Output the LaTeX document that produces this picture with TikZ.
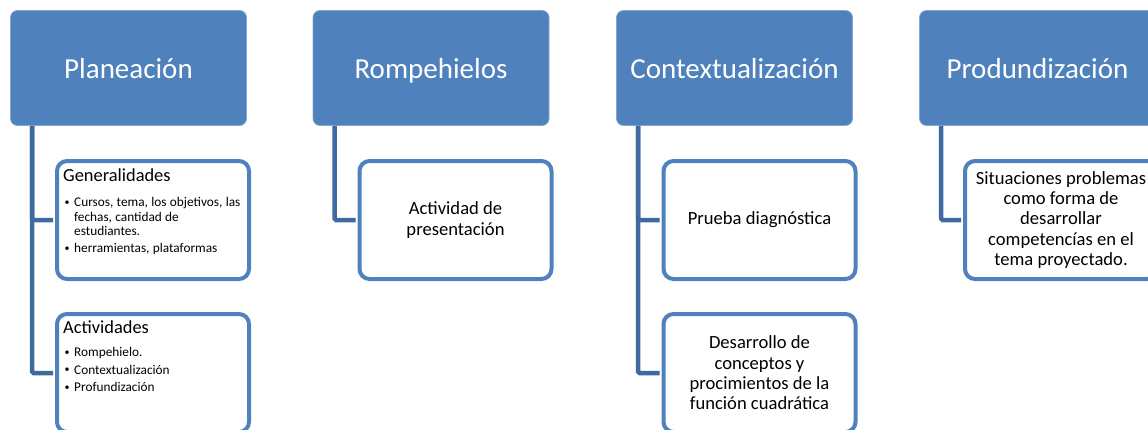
\documentclass[tikz,border=0pt]{standalone}
\usepackage{fontspec}
\setmainfont{Carlito}
\usepackage{tikz}
\usetikzlibrary{positioning}
\usepackage{xcolor}
\definecolor{hdrblue}{HTML}{4F81BD}
\definecolor{linkblue}{HTML}{3F6A9E}

% bullet item for the list boxes
\newcommand{\gitem}[1]{\par\hangindent=11pt\hangafter=1\noindent
    \makebox[11pt][l]{\hspace{1.5pt}\raisebox{0.12em}{\scalebox{0.75}{\textbullet}}}#1}

\begin{document}
\begin{tikzpicture}[x=1pt, y=-1pt,
    header/.style={draw=hdrblue!70!white, line width=0.8pt, fill=hdrblue, rounded corners=7pt,
        minimum width=236pt, minimum height=115pt, text=white, inner sep=0pt,
        text height=23pt, text depth=3pt, font=\fontsize{29}{34}\selectfont},
    child/.style={draw=hdrblue, line width=4pt, fill=white, rounded corners=10pt,
        minimum width=192pt, minimum height=118pt, inner sep=0pt, align=center,
        font=\fontsize{18.6}{20.4}\selectfont},
    listtxt/.style={anchor=north west, inner sep=0pt, text width=190pt, align=left},
    link/.style={draw=linkblue, line width=4.5pt, rounded corners=1.5pt}]
    \useasboundingbox (0,0) rectangle (1148,429);
    \clip (0,0) rectangle (1148,429);

    % Header boxes
    \node[header] (plan) at (128.5,68) {Planeación};
    \node[header] (romp) at (431,68) {Rompehielos};
    \node[header] (cont) at (734.5,68) {Contextualización};
    \node[header] (prof) at (1037.5,68) {Produndización};

    % Child boxes
    \node[child] (gen) at (153,220) {};
    \node[child] (act) at (153,373) {};
    \node[child] (pres) at (455.5,220) {Actividad de\\presentación};
    \node[child] (diag) at (759.5,220) {Prueba diagnóstica};
    \node[child] (desa) at (759.5,373) {Desarrollo de\\conceptos y\\procimientos de la\\función cuadrática};
    \node[child] (situ) at (1061,220) {Situaciones problemas\\como forma de\\desarrollar\\competencías en el\\tema proyectado.};

    % Connectors
    \draw[link] ([xshift=22pt]plan.south west) |- ([xshift=-2pt]gen.west);
    \draw[link] ([xshift=22pt]plan.south west) |- ([xshift=-2pt]act.west);
    \draw[link] ([xshift=22pt]romp.south west) |- ([xshift=-2pt]pres.west);
    \draw[link] ([xshift=22pt]cont.south west) |- ([xshift=-2pt]diag.west);
    \draw[link] ([xshift=22pt]cont.south west) |- ([xshift=-2pt]desa.west);
    \draw[link] ([xshift=22pt]prof.south west) |- ([xshift=-2pt]situ.west);

    % List texts
    \node[listtxt] (gentxt) at (63,169)
        {\fontsize{18.4}{20}\selectfont Generalidades\par
         \fontsize{13.3}{14.4}\selectfont\parskip=2.6pt\vspace{8pt}
         \gitem{Cursos, tema, los objetivos, las\newline fechas, cantidad de\newline estudiantes.}
         \gitem{herramientas, plataformas}\par};
    \node[listtxt] (acttxt) at (63,321)
        {\fontsize{18.4}{20}\selectfont Actividades\par
         \fontsize{13.3}{14.4}\selectfont\parskip=3pt\vspace{5.6pt}
         \gitem{Rompehielo.}
         \gitem{Contextualización}
         \gitem{Profundización}\par};
\end{tikzpicture}
\end{document}
